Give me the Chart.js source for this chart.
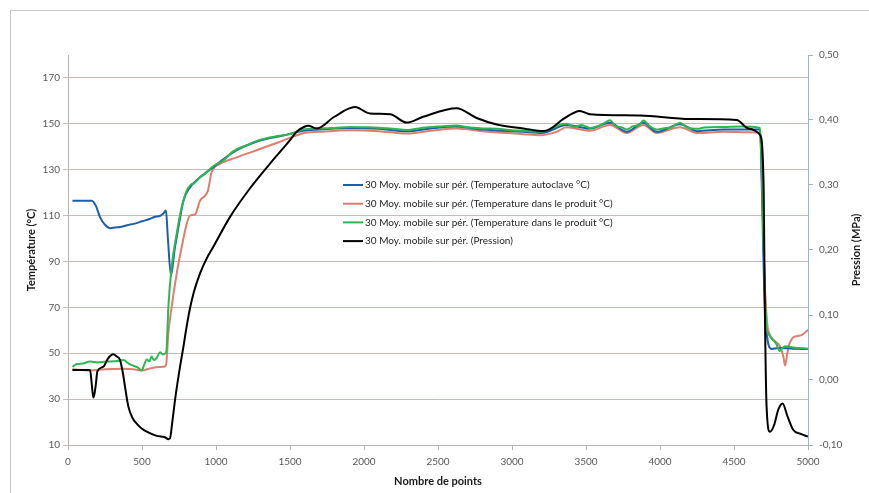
<!DOCTYPE html>
<html>
<head>
<meta charset="utf-8">
<script src="https://cdn.jsdelivr.net/npm/chart.js@4.4.0/dist/chart.umd.min.js"></script>
<style>
  html, body { margin: 0; padding: 0; background: #fff; }
  #wrap { width: 869px; height: 493px; }
</style>
</head>
<body>
<div id="wrap"><canvas id="chart" width="869" height="493"></canvas></div>
<script>
/* ============================
   AUTOCLAVE CYCLE CHART
============================ */

// ---------- DATA ----------
const seriesLabels = [
    "30 Moy. mobile sur pér. (Temperature autoclave °C)",
    "30 Moy. mobile sur pér. (Temperature dans le produit °C)",
    "30 Moy. mobile sur pér. (Temperature dans le produit °C)",
    "30 Moy. mobile sur pér. (Pression)"
];
const seriesColors = ["#1f5ea8", "#dc7f6e", "#2fb552", "#000000"];

// temperature autoclave (°C)
const autoclaveX = [30, 160, 190, 216, 250, 284, 320, 351, 400, 450, 500, 550, 588, 620, 645, 662, 675, 696, 720, 746, 780, 824, 892, 980, 1115, 1297, 1453, 1588, 1700, 1905, 2100, 2288, 2450, 2626, 2800, 3077, 3200, 3369, 3527, 3662, 3775, 3887, 3977, 4135, 4250, 4428, 4600, 4676, 4689, 4705, 4732, 4754, 4800, 4900, 5000];
const autoclaveY = [116.5, 116.5, 114, 109.3, 106, 104.5, 104.8, 105, 105.8, 106.5, 107.5, 108.5, 109.5, 109.8, 111, 112.2, 100, 83.9, 95, 104.9, 116.5, 122.3, 126.7, 131, 137.6, 142.7, 144.9, 147, 147.5, 148.2, 147.8, 146.8, 148, 148.8, 147.5, 146.5, 146, 149.5, 148, 150.5, 146.5, 150.5, 146.5, 149.8, 146.8, 147.5, 147.5, 147.5, 120, 75, 54, 51.9, 52.3, 52, 51.8];

// temperature produit 1 (°C)
const product1X = [30, 149, 250, 374, 440, 498, 560, 620, 655, 665, 678, 700, 734, 768, 802, 824, 858, 892, 926, 946, 970, 1027, 1140, 1297, 1453, 1588, 1700, 1905, 2100, 2288, 2450, 2626, 2800, 3077, 3189, 3300, 3369, 3527, 3662, 3775, 3887, 3977, 4135, 4250, 4428, 4600, 4676, 4689, 4705, 4725, 4740, 4780, 4811, 4834, 4845, 4860, 4876, 4901, 4930, 4960, 5000];
const product1Y = [43, 42.5, 43, 43.2, 43, 42.5, 43.5, 44, 44.2, 46, 58.5, 70, 84.6, 96.2, 106.4, 110, 110.5, 116.5, 118.7, 121, 128.9, 132.5, 135.4, 139, 142.7, 145.9, 146.5, 147.2, 146.8, 145.8, 147, 148, 146.8, 145.5, 145, 146.5, 148.5, 147, 149.5, 146, 149.5, 146, 148.5, 146, 146.5, 146.3, 146.2, 125, 85, 62.7, 58.5, 55, 53, 48.3, 44.6, 50, 54.4, 57, 57.5, 58, 60.2];

// temperature produit 2 (°C)
const product2X = [30, 59, 100, 149, 200, 261, 320, 374, 410, 441, 470, 498, 515, 532, 550, 565, 580, 599, 622, 640, 655, 665, 678, 700, 734, 768, 802, 830, 850, 892, 930, 980, 1050, 1115, 1200, 1297, 1400, 1500, 1588, 1700, 1800, 1905, 2000, 2100, 2200, 2288, 2400, 2500, 2626, 2700, 2800, 2900, 3000, 3077, 3189, 3250, 3300, 3369, 3420, 3470, 3527, 3580, 3620, 3662, 3700, 3740, 3775, 3820, 3860, 3887, 3930, 3977, 4020, 4080, 4135, 4180, 4250, 4300, 4428, 4550, 4676, 4689, 4705, 4718, 4732, 4760, 4786, 4808, 4830, 4853, 4900, 5000];
const product2Y = [44, 45.3, 45.5, 46.4, 46, 46.4, 46.5, 47, 45.5, 44.6, 43.8, 42.5, 45, 47.3, 46.5, 48.6, 47, 48, 50.4, 49.5, 49.8, 51, 70, 87.5, 102, 113.6, 120.9, 123.5, 124, 126.7, 128.5, 131.5, 134, 138, 140.5, 143, 144.5, 145.5, 147.5, 148, 148.2, 148.6, 148.5, 148.3, 147.8, 147.3, 148.3, 148.8, 149.3, 148.5, 148, 147.8, 147.2, 147, 146.5, 147.5, 149, 150, 148.6, 149.5, 148.2, 149, 150.2, 151.6, 149, 148.5, 147.5, 149, 149.5, 151.5, 149, 147.5, 148, 148.5, 150.5, 148.5, 147.8, 148.4, 148.6, 148.8, 148.2, 125, 85, 62, 58.5, 56, 54, 51, 52.5, 53, 52.5, 52];

// pression (MPa)
const pressureX = [30, 149, 160, 171, 180, 189, 198, 239, 270, 306, 330, 351, 370, 385, 408, 435, 464, 500, 532, 599, 655, 678, 689, 706, 723, 740, 757, 779, 800, 824, 850, 892, 935, 982, 1095, 1230, 1365, 1500, 1545, 1601, 1624, 1680, 1800, 1939, 2040, 2176, 2288, 2400, 2626, 2761, 2897, 3077, 3212, 3257, 3350, 3459, 3527, 3865, 4203, 4518, 4597, 4676, 4700, 4709, 4720, 4743, 4770, 4800, 4829, 4860, 4901, 4950, 5000];
const pressureY = [0.0154, 0.0154, -0.005, -0.027, -0.02, -0.005, 0.013, 0.0205, 0.033, 0.0395, 0.036, 0.031, 0.012, -0.010, -0.041, -0.058, -0.067, -0.075, -0.0795, -0.086, -0.088, -0.091, -0.0897, -0.062, -0.031, -0.004, 0.0205, 0.05, 0.08, 0.11, 0.135, 0.164, 0.186, 0.205, 0.251, 0.295, 0.333, 0.369, 0.382, 0.39, 0.391, 0.387, 0.405, 0.42, 0.41, 0.409, 0.396, 0.405, 0.418, 0.403, 0.393, 0.387, 0.383, 0.386, 0.402, 0.414, 0.409, 0.407, 0.4015, 0.40, 0.387, 0.377, 0.30, 0.1, -0.04, -0.0795, -0.07, -0.045, -0.036, -0.055, -0.077, -0.083, -0.087];

const tempTicks = [10, 30, 50, 70, 90, 110, 130, 150, 170];
const pressTicks = [-0.1, 0, 0.1, 0.2, 0.3, 0.4, 0.5];

// ---------- HELPERS ----------
function toPoints(xs, ys) {
    return xs.map((x, i) => ({ x: x, y: ys[i] }));
}

const FONT = "Lato, 'Open Sans', sans-serif";

// frame, axis titles and legend drawn by hand (Excel look)
const excelPlugin = {
    id: "excelLook",
    beforeDraw(chart) {
        const c = chart.ctx;
        c.save();
        c.fillStyle = "#fff";
        c.fillRect(0, 0, chart.width, chart.height);
        c.strokeStyle = "#c9c6c4";
        c.lineWidth = 1;
        c.strokeRect(10.5, 10.5, 880, 500);
        c.restore();
    },
    afterDraw(chart) {
        const c = chart.ctx;
        const a = chart.chartArea;
        const midY = (a.top + a.bottom) / 2;

        // axis titles
        c.save();
        c.font = "bold 11px " + FONT;
        c.fillStyle = "#1a1a1a";
        c.textAlign = "center";
        c.textBaseline = "middle";
        c.fillText("Nombre de points", (a.left + a.right) / 2, 481);

        c.translate(31, midY);
        c.rotate(-Math.PI / 2);
        c.fillText("Température (°C)", 0, 0);
        c.restore();

        c.save();
        c.font = "bold 11px " + FONT;
        c.fillStyle = "#1a1a1a";
        c.textAlign = "center";
        c.textBaseline = "middle";
        c.translate(856, midY);
        c.rotate(-Math.PI / 2);
        c.fillText("Pression (MPa)", 0, 0);
        c.restore();

        // legend inside the plot
        c.save();
        c.font = "10px " + FONT;
        c.textBaseline = "middle";
        c.textAlign = "left";
        chart.data.datasets.forEach((ds, i) => {
            const y = 185 + i * 18.7;
            c.strokeStyle = ds.borderColor;
            c.lineWidth = 2;
            c.beginPath();
            c.moveTo(343, y);
            c.lineTo(363, y);
            c.stroke();
            c.fillStyle = "#262626";
            c.fillText(ds.label, 365, y);
        });
        c.restore();
    }
};

// ---------- CHART ----------
function makeDataset(i, xs, ys, axis, order) {
    return {
        label: seriesLabels[i],
        data: toPoints(xs, ys),
        borderColor: seriesColors[i],
        backgroundColor: seriesColors[i],
        borderWidth: 2,
        pointRadius: 0,
        cubicInterpolationMode: "monotone",
        yAxisID: axis,
        order: order
    };
}

new Chart(document.getElementById("chart"), {
    type: "line",
    data: {
        datasets: [
            makeDataset(0, autoclaveX, autoclaveY, "y", 2),
            makeDataset(1, product1X, product1Y, "y", 3),
            makeDataset(2, product2X, product2Y, "y", 1),
            makeDataset(3, pressureX, pressureY, "y2", 0)
        ]
    },
    options: {
        responsive: false,
        animation: false,
        layout: { padding: { top: 55, left: 0, right: 0, bottom: 0 } },
        plugins: {
            legend: { display: false },
            tooltip: { enabled: false }
        },
        scales: {
            x: {
                type: "linear",
                min: 0,
                max: 5000,
                ticks: {
                    stepSize: 500,
                    maxRotation: 0,
                    padding: 6,
                    color: "#595959",
                    font: { family: FONT, size: 10 },
                    callback: v => String(v)
                },
                grid: { drawOnChartArea: false, tickLength: 5, color: "#b9b3b1" },
                border: { color: "#b9b3b1" },
                afterFit(scale) { scale.height = 48; }
            },
            y: {
                position: "left",
                min: 10,
                max: 180,
                afterBuildTicks(scale) {
                    scale.ticks = tempTicks.map(v => ({ value: v }));
                },
                ticks: {
                    padding: 3,
                    color: "#595959",
                    font: { family: FONT, size: 10 }
                },
                grid: { color: "#cdbab4", tickLength: 5, lineWidth: 1 },
                border: { color: "#b9b3b1" },
                afterFit(scale) { scale.width = 68; }
            },
            y2: {
                position: "right",
                min: -0.1,
                max: 0.5,
                afterBuildTicks(scale) {
                    scale.ticks = pressTicks.map(v => ({ value: v }));
                },
                ticks: {
                    padding: 6,
                    color: "#595959",
                    font: { family: FONT, size: 10 },
                    callback: v => v.toFixed(2).replace(".", ",")
                },
                grid: { drawOnChartArea: false, tickLength: 5, color: "#9fb3c0" },
                border: { color: "#9fb3c0" },
                afterFit(scale) { scale.width = 61; }
            }
        }
    },
    plugins: [excelPlugin]
});
</script>
</body>
</html>
